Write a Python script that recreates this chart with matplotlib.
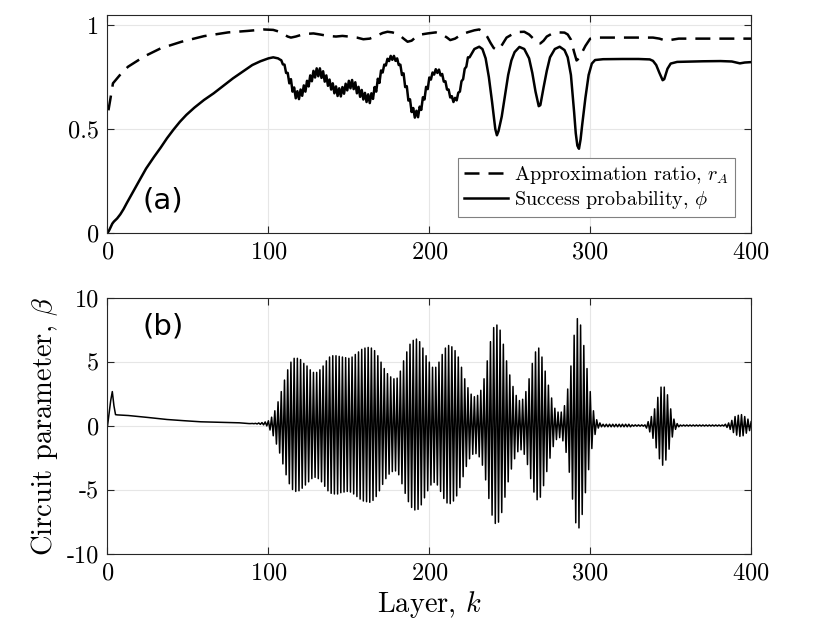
import numpy as np
import matplotlib
matplotlib.use("Agg")
import matplotlib.pyplot as plt

# LaTeX-ish look for axis text
plt.rcParams['font.family'] = 'serif'
plt.rcParams['font.serif'] = ['cmr10']
plt.rcParams['mathtext.fontset'] = 'cm'
plt.rcParams['axes.formatter.use_mathtext'] = True

# ---- panel (a): approximation ratio r_A (dashed) ----
ra_k = [0.6, 1.7, 3.4, 8.6, 12.8, 23, 33, 46, 60, 75, 87, 97, 103, 106, 109, 112, 114,
        117, 120, 124, 128, 132, 137, 142, 146, 150, 155, 159, 163, 167, 171, 174, 177,
        181, 184, 186.5, 189, 192, 195, 199, 204, 208, 211, 213, 216, 220, 224, 228,
        231, 234, 236, 238, 240, 242, 244, 246, 248, 252, 256, 259, 262, 265, 267, 269,
        271, 273, 276, 280, 284, 286, 288, 290, 291.5, 293, 295, 297, 300, 304, 339,
        343, 347, 351, 355, 400]
ra_v = [0.59, 0.64, 0.72, 0.768, 0.80, 0.85, 0.888, 0.92, 0.947, 0.965, 0.972, 0.979,
        0.977, 0.97, 0.958, 0.945, 0.94, 0.945, 0.952, 0.958, 0.96, 0.955, 0.948, 0.945,
        0.948, 0.945, 0.94, 0.932, 0.935, 0.948, 0.962, 0.968, 0.965, 0.955, 0.935, 0.92,
        0.925, 0.945, 0.955, 0.96, 0.965, 0.955, 0.94, 0.928, 0.935, 0.955, 0.966, 0.975,
        0.979, 0.965, 0.944, 0.915, 0.89, 0.88, 0.89, 0.915, 0.94, 0.958, 0.967, 0.968,
        0.955, 0.932, 0.915, 0.912, 0.925, 0.945, 0.958, 0.965, 0.964, 0.955, 0.93, 0.87,
        0.83, 0.84, 0.87, 0.90, 0.935, 0.94, 0.94, 0.935, 0.925, 0.93, 0.935, 0.935]

# ---- panel (a): success probability phi (solid) ----
phi_k_early = [0, 1, 2, 3, 4, 6, 8, 10, 12, 16, 20, 24, 29, 33, 37, 41, 45, 49, 54, 60,
               66, 72, 78, 84, 90, 95, 100, 103, 106, 107]
phi_v_early = [0, 0.012, 0.028, 0.045, 0.055, 0.07, 0.09, 0.115, 0.144, 0.2, 0.255, 0.31,
               0.367, 0.41, 0.456, 0.497, 0.535, 0.568, 0.603, 0.64, 0.672, 0.708, 0.744,
               0.776, 0.808, 0.826, 0.84, 0.845, 0.84, 0.835]
# layer by layer, k = 108 ... 225 (ripple region)
phi_v_mid = [0.831, 0.811, 0.81, 0.77, 0.77, 0.72, 0.74, 0.68, 0.70, 0.648,
             0.682, 0.644, 0.69, 0.66, 0.71, 0.68, 0.732, 0.705, 0.758, 0.73,
             0.78, 0.748, 0.792, 0.754, 0.792, 0.746, 0.778, 0.728, 0.758, 0.708,
             0.738, 0.69, 0.72, 0.672, 0.705, 0.659, 0.696, 0.657, 0.702, 0.67,
             0.718, 0.686, 0.732, 0.696, 0.736, 0.692, 0.725, 0.672, 0.703, 0.655,
             0.688, 0.642, 0.674, 0.63, 0.667, 0.625, 0.672, 0.645, 0.702, 0.68,
             0.742, 0.722, 0.782, 0.772, 0.81, 0.806, 0.838, 0.827, 0.852, 0.833,
             0.852, 0.828, 0.84, 0.808, 0.81, 0.76, 0.768, 0.702, 0.706, 0.637,
             0.643, 0.582, 0.601, 0.555, 0.588, 0.557, 0.608, 0.592, 0.653, 0.642,
             0.703, 0.692, 0.748, 0.738, 0.772, 0.762, 0.788, 0.77, 0.786, 0.758,
             0.765, 0.728, 0.73, 0.69, 0.69, 0.652, 0.658, 0.63, 0.65, 0.638,
             0.675, 0.68, 0.73, 0.74, 0.79, 0.80, 0.845, 0.845]
phi_k_late = [228, 231, 233, 235, 237, 239, 241, 242, 243, 245, 247, 249, 251, 253, 256,
              259, 262, 264, 266, 268, 269, 271, 273, 275, 278, 281, 284, 286, 288, 290,
              291, 292, 293, 294, 295, 297, 299, 301, 303, 308, 320, 330, 337, 339, 341,
              343, 345, 346, 348, 350, 354, 370, 381, 388, 393, 396, 400]
phi_v_late = [0.885, 0.896, 0.885, 0.84, 0.75, 0.63, 0.50, 0.47, 0.49, 0.56, 0.66, 0.76,
              0.83, 0.87, 0.895, 0.885, 0.84, 0.77, 0.68, 0.61, 0.615, 0.70, 0.78, 0.845,
              0.885, 0.896, 0.88, 0.845, 0.76, 0.58, 0.48, 0.42, 0.405, 0.45, 0.52, 0.65,
              0.76, 0.815, 0.832, 0.836, 0.837, 0.837, 0.835, 0.828, 0.808, 0.77, 0.735,
              0.74, 0.79, 0.815, 0.823, 0.826, 0.827, 0.825, 0.816, 0.82, 0.822]

# ---- panel (b): circuit parameter beta ----
beta_k_early = [0, 1, 2, 3, 4, 5, 6, 13, 25, 37, 47, 58, 70, 82, 88]
beta_v_early = [0, 1.0, 2.0, 2.7, 1.6, 0.9, 0.88, 0.83, 0.68, 0.52, 0.43, 0.34, 0.30,
                0.26, 0.2]
# layer by layer, k = 89 ... 400
beta_v_osc = [0.2, 0.21, 0.19, 0.22, 0.17, 0.25, 0.14, 0.28, 0.1, 0.33, 0.02, 0.42,   # 89-100
              -0.3, 0.7, -0.75, 1.2, -1.4, 1.9, -2.1, 2.7, -2.95, 3.6,           # 101-110
              -3.8, 4.4, -4.5, 5.0, -4.95, 5.3, -5.1, 5.3, -5.05, 5.2,           # 111-120
              -4.85, 4.9, -4.6, 4.7, -4.35, 4.4, -4.1, 4.2, -4.0, 4.2,           # 121-130
              -4.1, 4.4, -4.35, 4.7, -4.7, 5.1, -5.05, 5.4, -5.25, 5.5,          # 131-140
              -5.3, 5.5, -5.3, 5.45, -5.2, 5.4, -5.15, 5.35, -5.1, 5.3,          # 141-150
              -5.15, 5.4, -5.3, 5.6, -5.5, 5.8, -5.7, 6.0, -5.85, 6.1,           # 151-160
              -5.9, 6.15, -5.95, 6.1, -5.8, 5.9, -5.5, 5.5, -5.05, 5.0,          # 161-170
              -4.55, 4.5, -4.1, 4.1, -3.75, 3.85, -3.55, 3.7, -3.5, 3.75,        # 171-180
              -3.8, 4.3, -4.5, 5.1, -5.25, 5.8, -5.9, 6.4, -6.35, 6.7,           # 181-190
              -6.55, 6.8, -6.5, 6.6, -6.15, 6.1, -5.6, 5.5, -5.05, 5.0,          # 191-200
              -4.6, 4.6, -4.4, 4.6, -4.6, 5.0, -5.1, 5.6, -5.65, 6.1,            # 201-210
              -6.0, 6.3, -6.05, 6.2, -5.85, 5.9, -5.45, 5.4, -4.8, 4.6,          # 211-220
              -3.95, 3.7, -3.15, 3.0, -2.55, 2.5, -2.2, 2.3, -2.15, 2.4,         # 221-230
              -2.4, 2.8, -3.05, 3.7, -4.2, 5.1, -5.65, 6.6, -6.95, 7.7,          # 231-240
              -7.6, 7.9, -7.5, 7.5, -6.75, 6.4, -5.55, 5.1, -4.35, 4.0,          # 241-250
              -3.35, 3.1, -2.55, 2.4, -2.0, 2.0, -1.85, 2.1, -2.2, 2.7,          # 251-260
              -3.0, 3.7, -4.1, 4.9, -5.15, 5.8, -5.75, 6.1, -5.55, 5.4,          # 261-270
              -4.65, 4.3, -3.55, 3.2, -2.5, 2.2, -1.6, 1.4, -1.05, 1.1,          # 271-280
              -0.9, 1.1, -1.15, 1.6, -2.05, 2.9, -3.6, 4.7, -5.7, 7.1,           # 281-290
              -7.55, 8.4, -7.95, 7.9, -6.9, 6.3, -5.2, 4.5, -3.4, 2.7,           # 291-300
              -1.75, 1.2, -0.65, 0.5, -0.15, 0.25, -0.05, 0.15, -0.05, 0.15,     # 301-310
              -0.05, 0.15, -0.05, 0.15, -0.05, 0.15, -0.05, 0.15, -0.05, 0.15,   # 311-320
              -0.05, 0.15, -0.05, 0.15, -0.05, 0.1, 0.0, 0.1, 0.0, 0.1,          # 321-330
              0.0, 0.1, 0.0, 0.1, -0.15, 0.35, -0.45, 0.75, -0.95, 1.35,         # 331-340
              -1.7, 2.25, -2.55, 3.05, -3.05, 3.05, -2.65, 2.45, -1.8, 1.35,     # 341-350
              -0.85, 0.55, -0.25, 0.2, -0.05, 0.09, 0.01, 0.09, 0.01, 0.09,      # 351-360
              0.01, 0.09, 0.01, 0.09, 0.01, 0.09, 0.01, 0.09, 0.01, 0.09,        # 361-370
              0.01, 0.09, 0.01, 0.09, 0.01, 0.09, 0.01, 0.09, 0.01, 0.09,        # 371-380
              0.01, 0.09, 0.01, 0.15, -0.1, 0.25, -0.25, 0.45, -0.5, 0.75,       # 381-390
              -0.7, 0.85, -0.8, 0.9, -0.75, 0.75, -0.55, 0.55, -0.35, 0.35]      # 391-400

phi_k = phi_k_early + list(range(108, 108 + len(phi_v_mid))) + phi_k_late
phi_v = phi_v_early + phi_v_mid + phi_v_late
beta_k = beta_k_early + list(range(89, 89 + len(beta_v_osc)))
beta_v = beta_v_early + beta_v_osc

spine_col = '#262626'
grid_col = '#e6e6e6'


def style_axes(ax):
    ax.grid(True, color=grid_col, linewidth=0.8)
    ax.set_axisbelow(True)
    for s in ax.spines.values():
        s.set_color(spine_col)
        s.set_linewidth(0.8)
    ax.tick_params(direction='in', top=True, right=True, length=5, width=0.8,
                   color=spine_col, labelsize=17.5, pad=6)


fig = plt.figure(figsize=(8.3, 6.29), dpi=100)

# top panel
ax1 = fig.add_axes([0.1295, 0.6296, 0.7755, 0.347])
ax1.plot(ra_k, ra_v, color='black', linestyle=(0, (6, 3.6)), linewidth=1.8,
         label='Approximation ratio, $r_A$')
ax1.plot(phi_k, phi_v, color='black', linewidth=1.8, label='Success probability, $\\phi$')
ax1.set_xlim(0, 400)
ax1.set_ylim(0, 1.05)
ax1.set_xticks([0, 100, 200, 300, 400])
ax1.set_yticks([0, 0.5, 1])
ax1.set_yticklabels(['0', '0.5', '1'])
style_axes(ax1)
ax1.text(22, 0.155, '(a)', family='DejaVu Sans', fontsize=21, ha='left', va='center')
leg = ax1.legend(loc='lower right', fontsize=14.5, fancybox=False, framealpha=1,
                 edgecolor='#808080', handlelength=2.2, borderpad=0.3,
                 labelspacing=0.15, handletextpad=0.3, borderaxespad=0.8)
leg.get_frame().set_linewidth(0.8)

# bottom panel
ax2 = fig.add_axes([0.1295, 0.119, 0.7755, 0.407])
ax2.plot(beta_k, beta_v, color='black', linewidth=1.1)
ax2.set_xlim(0, 400)
ax2.set_ylim(-10, 10)
ax2.set_xticks([0, 100, 200, 300, 400])
ax2.set_yticks([-10, -5, 0, 5, 10])
ax2.set_yticklabels(['-10', '-5', '0', '5', '10'])
style_axes(ax2)
ax2.text(22, 7.8, '(b)', family='DejaVu Sans', fontsize=21, ha='left', va='center')
ax2.set_xlabel('Layer, $k$', fontsize=20.5, labelpad=3)
ax2.set_ylabel('Circuit parameter, $\\beta$', fontsize=20.5, labelpad=5)

fig.savefig('out.png', dpi=100)
